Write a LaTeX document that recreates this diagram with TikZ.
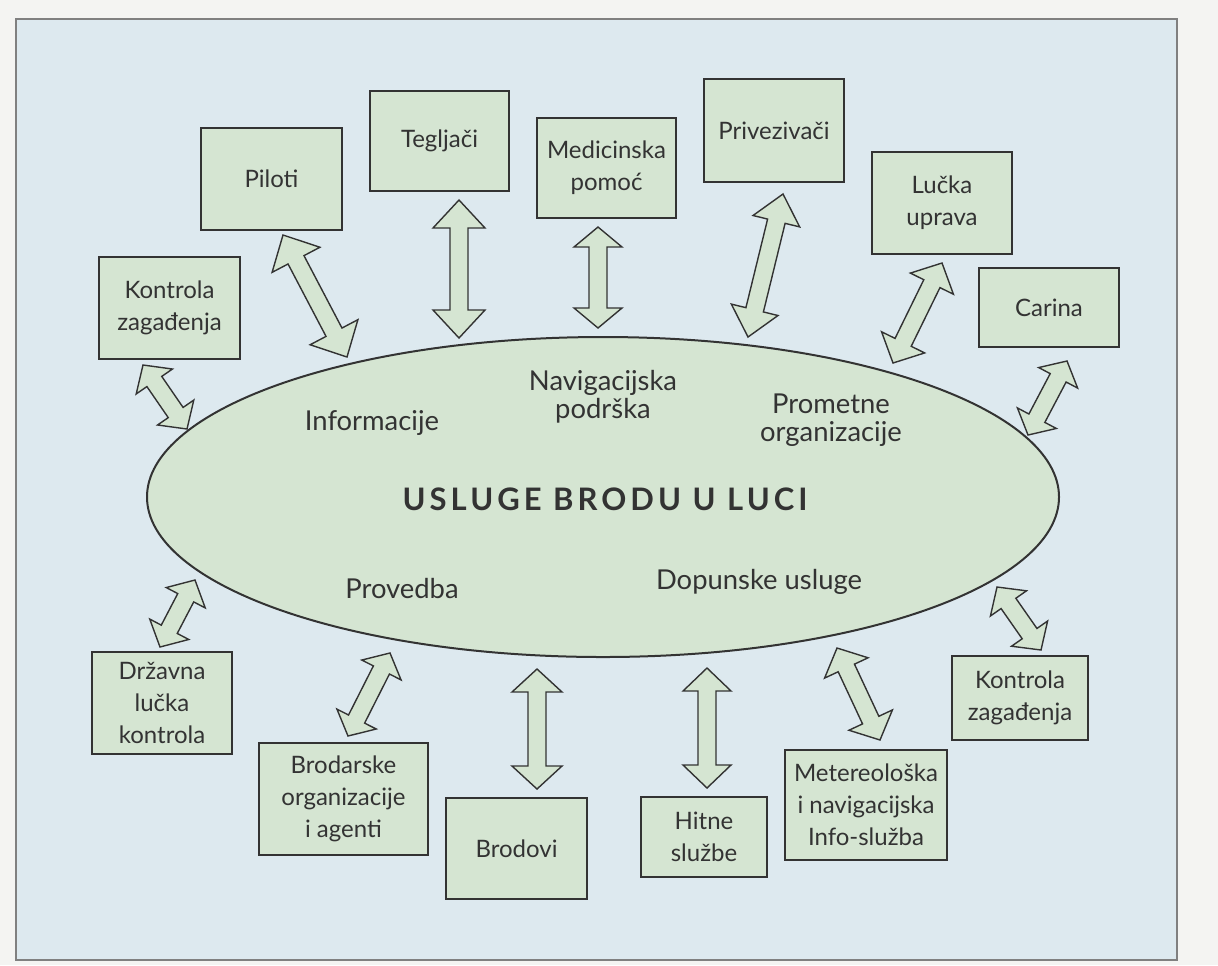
\documentclass[tikz,border=0pt]{standalone}
\usepackage{fontspec}
\setmainfont{Lato}
\usetikzlibrary{calc,shapes.geometric}

\definecolor{panelblue}{HTML}{DDE9EF}
\definecolor{boxgreen}{HTML}{D5E5D2}
\definecolor{inkgray}{HTML}{333333}
\definecolor{pagewhite}{HTML}{F4F4F2}

\tikzset{
  service/.style={draw=inkgray, line width=1pt, fill=boxgreen, align=center,
    inner sep=0pt, text=inkgray, font=\fontsize{12}{16}\selectfont},
  topic/.style={align=center, text=inkgray, font=\fontsize{13.7}{14}\selectfont},
  fatlink/.style={draw=inkgray, line width=0.7pt, fill=boxgreen, line join=miter},
}

% fat two-way arrow between two named points (head length #3, head half-width #4)
\newcommand{\twoway}[4]{%
  \draw[fatlink] (#1)
    -- ($(#1)!#3pt!(#2)!#4pt!90:(#2)$) -- ($(#1)!#3pt!(#2)!4.5pt!90:(#2)$)
    -- ($(#2)!#3pt!(#1)!4.5pt!-90:(#1)$) -- ($(#2)!#3pt!(#1)!#4pt!-90:(#1)$)
    -- (#2)
    -- ($(#2)!#3pt!(#1)!#4pt!90:(#1)$) -- ($(#2)!#3pt!(#1)!4.5pt!90:(#1)$)
    -- ($(#1)!#3pt!(#2)!4.5pt!-90:(#2)$) -- ($(#1)!#3pt!(#2)!#4pt!-90:(#2)$)
    -- cycle;}

\begin{document}
\begin{tikzpicture}[x=0.5pt, y=-0.5pt]
    \useasboundingbox (0,0) rectangle (1218,965);
    % Page and panel
    \fill[pagewhite] (0,0) rectangle (1218,965);
    \draw[gray, line width=0.8pt, fill=panelblue] (16,19) rectangle (1177,960);

    % Central ellipse
    \node[ellipse, draw=inkgray, line width=1pt, fill=boxgreen,
      minimum width=456pt, minimum height=160pt] (hub) at (603,497) {};
    \node[text=inkgray, font=\bfseries\fontsize{15.5}{17}\selectfont\addfontfeatures{LetterSpace=13}]
      (title) at (605,499) {USLUGE BRODU U LUCI};
    \node[topic] (info) at (372,423) {Informacije};
    \node[topic] (navig) at (603,397) {Navigacijska\\podrška};
    \node[topic] (promet) at (831,420) {Prometne\\organizacije};
    \node[topic] (proved) at (402,589) {Provedba};
    \node[topic] (dopun) at (759,582) {Dopunske usluge};

    % Boxes round the ellipse
    \node[service, minimum width=70.5pt, minimum height=51pt] (piloti) at (271.5,179) {Piloti};
    \node[service, minimum width=70.5pt, minimum height=51pt] (kontrolaA) at (169.5,308) {Kontrola\\zagađenja};
    \node[service, minimum width=69.5pt, minimum height=50pt] (tegljaci) at (439.5,141) {Tegljači};
    \node[service, minimum width=69.5pt, minimum height=50pt] (medic) at (606.5,168) {Medicinska\\pomoć};
    \node[service, minimum width=70pt, minimum height=51.5pt] (privez) at (774,130.5) {Privezivači};
    \node[service, minimum width=70pt, minimum height=51pt] (uprava) at (942,203) {Lučka\\uprava};
    \node[service, minimum width=70pt, minimum height=39.5pt] (carina) at (1049,307.5) {Carina};
    \node[service, minimum width=68pt, minimum height=42pt] (kontrolaB) at (1020,698) {Kontrola\\zagađenja};
    \node[service, minimum width=81pt, minimum height=55pt] (meteo) at (866,805) {Metereološka\\i navigacijska\\Info-služba};
    \node[service, minimum width=63pt, minimum height=40pt] (hitne) at (704,837) {Hitne\\službe};
    \node[service, minimum width=70.5pt, minimum height=50.5pt] (brodovi) at (516.5,848.5) {Brodovi};
    \node[service, minimum width=84.5pt, minimum height=56pt] (brodar) at (343.5,799) {Brodarske\\organizacije\\i agenti};
    \node[service, minimum width=70pt, minimum height=51pt] (drzavna) at (162,703) {Državna\\lučka\\kontrola};

    % Arrow ends
    \coordinate (piloti1) at (283,235);   \coordinate (piloti2) at (347,357);
    \coordinate (tegljaci1) at (459,200); \coordinate (tegljaci2) at (459,338);
    \coordinate (medic1) at (598,227);    \coordinate (medic2) at (598,328);
    \coordinate (privez1) at (783,194);   \coordinate (privez2) at (748,337);
    \coordinate (uprava1) at (942,263);   \coordinate (uprava2) at (893,363);
    \coordinate (carina1) at (1067,361);  \coordinate (carina2) at (1028,435);
    \coordinate (kontrolaA1) at (143,365); \coordinate (kontrolaA2) at (187,429);
    \coordinate (drzavna1) at (195,580);  \coordinate (drzavna2) at (160,647);
    \coordinate (brodar1) at (390,653);   \coordinate (brodar2) at (348,736);
    \coordinate (brodovi1) at (537,669);  \coordinate (brodovi2) at (537,789);
    \coordinate (hitne1) at (707,668);    \coordinate (hitne2) at (707,788);
    \coordinate (meteo1) at (837,648);    \coordinate (meteo2) at (880,740);
    \coordinate (kontrolaB1) at (997,587); \coordinate (kontrolaB2) at (1041,650);

    % Two-way arrows
    \foreach \n/\hl/\hw in {piloti/14/13.5, tegljaci/14/13, medic/10/12, privez/14/12,
      uprava/11.5/12, carina/9.5/11, kontrolaA/10/11, drzavna/10/11, brodar/9.5/11,
      brodovi/11.5/12.5, hitne/11.5/12, meteo/11/12, kontrolaB/10/11}
      {\twoway{\n1}{\n2}{\hl}{\hw}}
\end{tikzpicture}
\end{document}
